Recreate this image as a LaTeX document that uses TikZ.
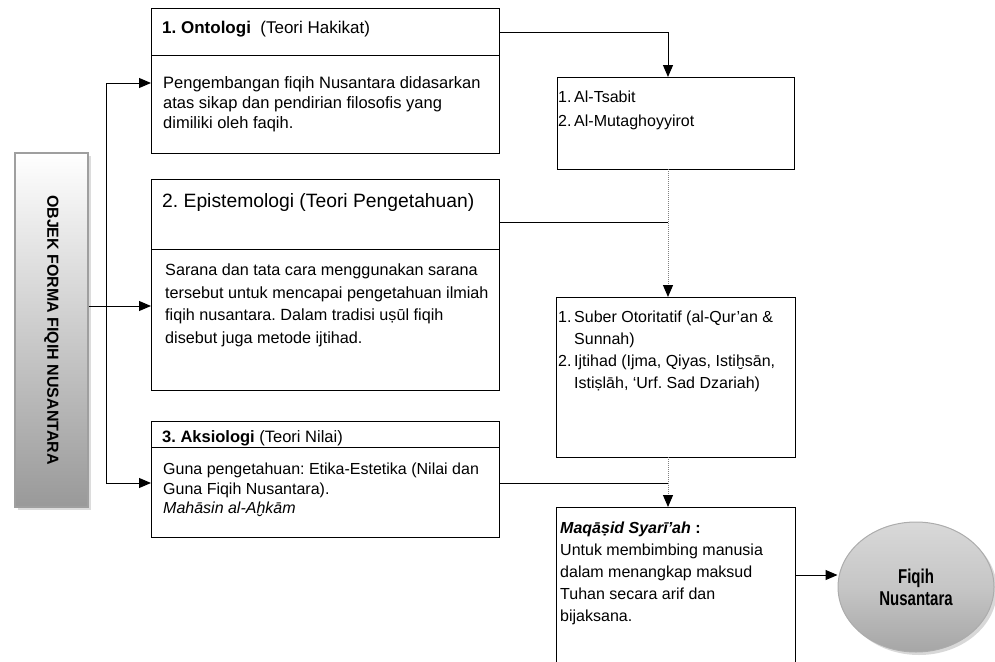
\documentclass[tikz,border=0pt]{standalone}
\usepackage{fontspec}
\setmainfont{Liberation Sans}
\usetikzlibrary{positioning,arrows.meta,shadows,shapes.geometric}
\frenchspacing

\tikzset{
  frame/.style={draw, line width=1pt, outer sep=0pt, inner sep=0pt, anchor=north west},
  txt/.style={anchor=north west, inner sep=0pt, align=left, font=\fontsize{16}{20}\selectfont},
  hdr/.style={anchor=north west, inner sep=0pt, font=\fontsize{17}{20}\selectfont},
  link/.style={line width=1pt, -{Triangle[length=12pt,width=10pt]}},
  dots/.style={densely dotted, gray, line width=1pt, -{Triangle[length=12pt,width=10pt,color=black]}},
  objek/.style={draw=gray!75, line width=1.5pt, minimum width=73pt, minimum height=354pt,
    top color=white, bottom color=gray!80, inner sep=0pt,
    drop shadow={shadow xshift=3pt, shadow yshift=-3pt, fill=gray!55},
    font=\bfseries\fontsize{16}{16}\selectfont},
  hasil/.style={ellipse, draw=gray!65, line width=1pt, minimum width=156pt, minimum height=130pt,
    top color=gray!30, bottom color=gray!70, middle color=gray!45, align=center, inner sep=0pt,
    drop shadow={shadow xshift=3pt, shadow yshift=-3pt, fill=gray!60},
    font=\bfseries\fontsize{20}{22}\selectfont}
}

\begin{document}
\begin{tikzpicture}[x=1pt,y=-1pt]
\useasboundingbox (0,0) rectangle (995,661);

% left box
\node[objek] (objek) at (51.5,330) {\rotatebox{-90}{OBJEK FORMA FIQIH NUSANTARA}};

% the three boxes
\node[frame, minimum width=348pt, minimum height=47pt]  (ontoHead) at (151,9) {};
\node[frame, minimum width=348pt, minimum height=97pt, below=0pt of ontoHead] (ontoBody) {};
\node[frame, minimum width=348pt, minimum height=70pt]  (epiHead) at (151,179) {};
\node[frame, minimum width=348pt, minimum height=141pt, below=0pt of epiHead] (epiBody) {};
\node[frame, minimum width=348pt, minimum height=26pt]  (aksHead) at (151,421) {};
\node[frame, minimum width=348pt, minimum height=90pt, below=0pt of aksHead] (aksBody) {};

\node[hdr] (ontoTitle) at (162,21) {\textbf{1. Ontologi}\ \ (Teori Hakikat)};
\node[txt, font=\fontsize{16.5}{20}\selectfont] (ontoText) at (163,76) {Pengembangan fiqih Nusantara didasarkan\\
  atas sikap dan pendirian filosofis yang\\dimiliki oleh faqih.};
\node[hdr, font=\fontsize{19.3}{22}\selectfont] (epiTitle) at (162,193) {2. Epistemologi (Teori Pengetahuan)};
\node[txt, font=\fontsize{16.2}{22.5}\selectfont] (epiText) at (165,264) {Sarana dan tata cara menggunakan sarana\\
  tersebut untuk mencapai pengetahuan ilmiah\\fiqih nusantara. Dalam tradisi uṣūl fiqih\\
  disebut juga metode ijtihad.};
\node[hdr, font=\fontsize{16.5}{20}\selectfont] (aksTitle) at (162,430) {\textbf{3. Aksiologi} (Teori Nilai)};
\node[txt, font=\fontsize{16}{19.5}\selectfont] (aksText) at (163,463) {Guna pengetahuan: Etika-Estetika (Nilai dan\\
  Guna Fiqih Nusantara).\\\textit{Mahāsin al-Aḫkām}};

% right column
\node[frame, minimum width=237pt, minimum height=92pt]  (tsabit) at (557,77) {};
\node[frame, minimum width=239pt, minimum height=160pt] (suber) at (556,297) {};
\node[anchor=north west, minimum width=239pt, minimum height=165pt, inner sep=0pt] (maqasid) at (556,507) {};
\draw[line width=1pt] (maqasid.south west) -- (maqasid.north west) -- (maqasid.north east) -- (maqasid.south east);

\node[txt, font=\fontsize{16}{24}\selectfont] (tsabitText) at (558,91) {1.\,Al-Tsabit\\2.\,Al-Mutaghoyyirot};
\node[txt, font=\fontsize{16}{22}\selectfont] (suberText) at (558,311) {%
  \makebox[16pt][l]{1.}Suber Otoritatif (al-Qur’an \&\\
  \hspace*{16pt}Sunnah)\\
  \makebox[16pt][l]{2.}Ijtihad (Ijma, Qiyas, Istiḫsān,\\
  \hspace*{16pt}Istiṣlāh, ‘Urf. Sad Dzariah)};
\node[txt, font=\fontsize{16}{22}\selectfont] (maqText) at (560,522) {\textbf{\textit{Maqāṣid Syarī’ah}} \textbf{:}\\
  Untuk membimbing manusia\\dalam menangkap maksud\\Tuhan secara arif dan\\bijaksana.};

\node[hasil] (fiqih) at (916,587) {\scalebox{0.75}[1]{Fiqih}\\\scalebox{0.75}[1]{Nusantara}};

% connectors
\coordinate (busN) at (106,83);
\coordinate (busM) at (106,306);
\coordinate (busS) at (106,483);
\coordinate (spine) at (668,0);
\coordinate (j2) at (668,222);
\coordinate (j3) at (668,483);
\coordinate (j4) at (800,575);

\draw[link] (objek.east |- busM) -- (epiBody.west |- busM);
\draw[line width=1pt] (busN) -- (busS);
\draw[link] (busN) -- (ontoBody.west |- busN);
\draw[link] (busS) -- (aksBody.west |- busS);

\draw[link] (ontoHead.east) -| (spine |- tsabit.north);
\draw[dots] (spine |- tsabit.south) -- (spine |- suber.north);
\draw[line width=1pt] (epiHead.east |- j2) -- (j2);
\draw[dots] (spine |- suber.south) -- (spine |- maqasid.north);
\draw[line width=1pt] (aksBody.east |- j3) -- (j3);
\draw[link] (maqasid.east |- j4) -- (fiqih.west |- j4);
\end{tikzpicture}
\end{document}
